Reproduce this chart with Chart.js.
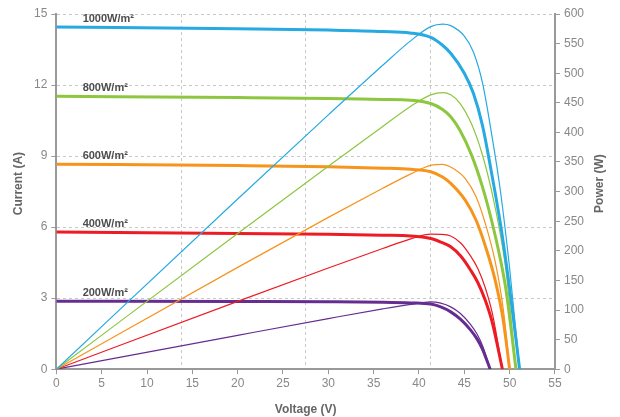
<!DOCTYPE html>
<html>
<head>
<meta charset="utf-8">
<script src="https://cdn.jsdelivr.net/npm/chart.js@4.4.1/dist/chart.umd.min.js"></script>
<style>
  body { margin: 0; background: #fff; }
  #wrap { width: 620px; height: 417px; }
</style>
</head>
<body>
<div id="wrap"><canvas id="ivChart"></canvas></div>
<script>
// irradiance levels, top to bottom
const irradiance = ['1000W/m²', '800W/m²', '600W/m²', '400W/m²', '200W/m²'];
const colors = ['#27aae1', '#8dc63f', '#f7941d', '#ed1c24', '#662d91'];

// voltage (V), current (A), power (W) for each curve
const volt1000 = [0, 20, 30, 36, 39, 41.3, 42.6, 43.5, 45, 46, 47, 48, 49, 50, 51.1];
const amps1000 = [14.45, 14.38, 14.32, 14.26, 14.2, 14.01, 13.68, 13.34, 12.5, 11.65, 10.3, 8.3, 6.1, 3.4, 0];
const watt1000 = [0, 287.6, 429.6, 513.4, 553.8, 578.6, 582.8, 580.3, 562.5, 535.9, 484.1, 398.4, 298.9, 170, 0];

const volt800 = [0, 20, 30, 36, 39.1, 41.3, 42.6, 43.5, 44.5, 45.8, 47, 48, 49, 49.6, 50.7];
const amps800 = [11.53, 11.47, 11.43, 11.39, 11.36, 11.22, 10.97, 10.66, 10.1, 9.04, 7.7, 6.29, 4.6, 3.34, 0];
const watt800 = [0, 229.4, 342.9, 410.0, 444.2, 463.4, 467.3, 463.7, 449.5, 414.0, 361.9, 301.9, 225.4, 165.7, 0];

const volt600 = [0, 20, 30, 36, 39.1, 41.3, 42.6, 43.5, 45.1, 46.3, 47.4, 48.4, 49.3, 50];
const amps600 = [8.66, 8.6, 8.55, 8.49, 8.44, 8.34, 8.12, 7.85, 7.14, 6.29, 5.1, 3.76, 2.05, 0];
const watt600 = [0, 172, 256.5, 305.6, 330.0, 344.4, 345.9, 341.5, 322.0, 291.2, 241.7, 182.0, 101.1, 0];

const volt400 = [0, 20, 30, 36, 39.1, 41.3, 42.4, 43.5, 44.6, 45.7, 46.5, 47.3, 48.1, 49.2];
const amps400 = [5.79, 5.73, 5.7, 5.66, 5.63, 5.52, 5.37, 5.17, 4.78, 4.18, 3.65, 2.92, 1.95, 0];
const watt400 = [0, 114.6, 171, 203.8, 220.1, 228.0, 227.7, 224.9, 213.2, 191.0, 169.7, 138.1, 93.8, 0];

const volt200 = [0, 20, 30, 36, 39.1, 41.3, 42.4, 43.5, 44.6, 45.7, 46.4, 47, 47.85];
const amps200 = [2.87, 2.86, 2.85, 2.83, 2.8, 2.75, 2.63, 2.42, 2.1, 1.65, 1.28, 0.85, 0];
const watt200 = [0, 57.2, 85.5, 101.9, 109.5, 113.6, 111.5, 105.3, 93.7, 75.4, 59.4, 40.0, 0];

const volts = [volt1000, volt800, volt600, volt400, volt200];
const amps = [amps1000, amps800, amps600, amps400, amps200];
const watts = [watt1000, watt800, watt600, watt400, watt200];

const pts = (xs, ys) => xs.map((x, i) => ({ x: x, y: ys[i] }));

const datasets = [];
irradiance.forEach((name, k) => {
  datasets.push({
    label: name + ' current',
    data: pts(volts[k], amps[k]),
    yAxisID: 'y',
    borderColor: colors[k],
    borderWidth: 3,
  });
  datasets.push({
    label: name + ' power',
    data: pts(volts[k], watts[k]),
    yAxisID: 'y2',
    borderColor: colors[k],
    borderWidth: 1.2,
  });
});

const FONT = "'Liberation Sans', Arial, sans-serif";

// irradiance names above each current curve + the two vertical axis titles
const curveLabels = {
  id: 'curveLabels',
  afterDatasetsDraw(chart) {
    const ctx = chart.ctx;
    const xs = chart.scales.x, ys = chart.scales.y;
    const area = chart.chartArea;
    ctx.save();
    ctx.font = 'bold 11px ' + FONT;
    ctx.fillStyle = '#4d4d4d';
    ctx.textBaseline = 'alphabetic';
    irradiance.forEach((name, k) => {
      ctx.fillText(name, xs.getPixelForValue(2.9), ys.getPixelForValue(amps[k][0]) - 5);
    });

    ctx.font = 'bold 12px ' + FONT;
    ctx.fillStyle = '#666';
    ctx.textAlign = 'center';
    ctx.textBaseline = 'middle';
    const midY = (area.top + area.bottom) / 2 - 8;
    [['Current (A)', area.left - 38], ['Power (W)', area.right + 45]].forEach(([t, x]) => {
      ctx.save();
      ctx.translate(x, midY);
      ctx.rotate(-Math.PI / 2);
      ctx.fillText(t, 0, 0);
      ctx.restore();
    });
    ctx.restore();
  }
};

const hideEdge = (c) => (c.tick && (c.tick.value === 0 || c.tick.value === 55)) ? 'rgba(0,0,0,0)' : '#c8c8c8';
const hideZero = (c) => (c.tick && c.tick.value === 0) ? 'rgba(0,0,0,0)' : '#c8c8c8';

Chart.defaults.font.family = FONT;

new Chart(document.getElementById('ivChart'), {
  type: 'line',
  data: { datasets: datasets },
  options: {
    responsive: true,
    maintainAspectRatio: false,
    animation: false,
    elements: {
      point: { radius: 0 },
      line: { cubicInterpolationMode: 'monotone', fill: false },
    },
    layout: { padding: { top: 14, right: 32, left: 30, bottom: 0 } },
    plugins: {
      legend: { display: false },
      tooltip: { enabled: false },
    },
    scales: {
      x: {
        type: 'linear',
        min: 0, max: 55,
        ticks: { stepSize: 5, color: '#888', font: { size: 12 }, padding: 2 },
        grid: { drawOnChartArea: false, tickLength: 5, tickColor: '#999' },
        border: { color: '#999', width: 2 },
        title: { display: true, text: 'Voltage (V)', color: '#666', font: { size: 12, weight: 'bold' }, padding: { top: 10, bottom: 0 } },
      },
      xg: {
        type: 'linear',
        position: 'top',
        min: 0, max: 55,
        ticks: { display: false, stepSize: 13.75 },
        grid: { drawTicks: false, color: hideEdge, lineWidth: 1 },
        border: { display: false, dash: [3, 3] },
      },
      y: {
        position: 'left',
        min: 0, max: 15,
        ticks: { stepSize: 3, color: '#888', font: { size: 12 }, padding: 4 },
        grid: { color: hideZero, lineWidth: 1, tickLength: 5, tickColor: '#999', tickBorderDash: [] },
        border: { color: '#999', width: 2, dash: [3, 3] },
      },
      y2: {
        position: 'right',
        min: 0, max: 600,
        ticks: { stepSize: 50, color: '#888', font: { size: 12 }, padding: 4 },
        grid: { drawOnChartArea: false, tickLength: 5, tickColor: '#999' },
        border: { color: '#999', width: 2 },
      },
    },
  },
  plugins: [curveLabels],
});
</script>
</body>
</html>
